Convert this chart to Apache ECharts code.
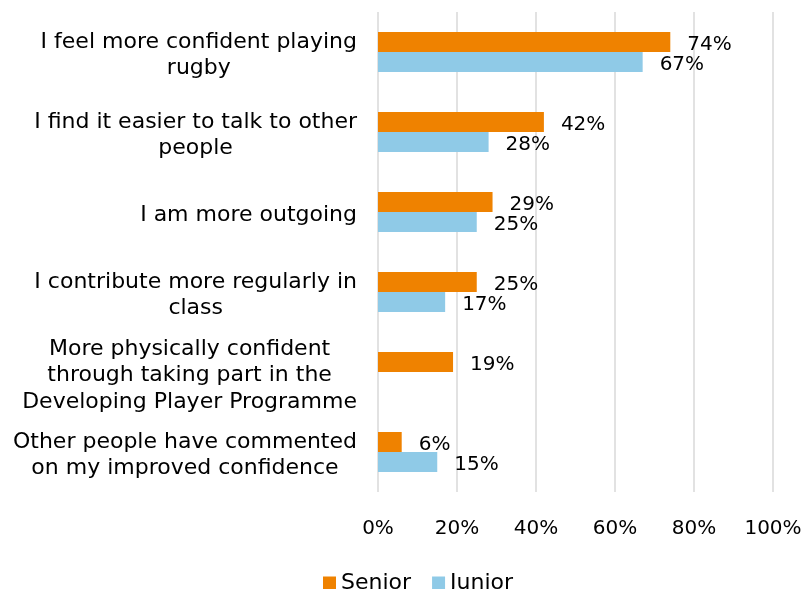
<!DOCTYPE html>
<html>
<head>
<meta charset="utf-8">
<script src="https://cdn.jsdelivr.net/npm/echarts@6/dist/echarts.min.js"></script>
<style>
  html, body { margin: 0; padding: 0; background: #fff; }
  #chart { width: 807px; height: 589px; }
</style>
</head>
<body>
<div id="chart"></div>
<script>
// Survey statements (top to bottom)
const categories = [
  'I feel more confident playing\nrugby',
  'I find it easier to talk to other\npeople',
  'I am more outgoing',
  'I contribute more regularly in\nclass',
  'More physically confident\nthrough taking part in the\nDeveloping Player Programme',
  'Other people have commented\non my improved confidence'
];
// Share of respondents agreeing (%)
const seniorValues = [74, 42, 29, 25, 19, 6];
const juniorValues = [67, 28, 25, 17, null, 15];
const xTicks = [0, 20, 40, 60, 80, 100];

const FONT = 'DejaVu Sans';
const chart = echarts.init(document.getElementById('chart'));

const labelStyle = {
  show: true,
  position: 'right',
  distance: 17,
  offset: [0, 3],
  fontFamily: FONT,
  fontSize: 20,
  color: '#000',
  formatter: p => p.value == null ? '' : p.value + '%'
};

chart.setOption({
  animation: false,
  grid: { left: 378, right: 34, top: 12, height: 480, containLabel: false },
  legend: {
    bottom: -10,
    left: 318,
    itemWidth: 13,
    itemHeight: 13,
    itemGap: 21,
    itemTextGap: 6,
    textStyle: { fontFamily: FONT, fontSize: 22, color: '#000' },
    data: [
      { name: 'Senior', icon: 'rect' },
      { name: 'Junior', icon: 'rect' }
    ]
  },
  xAxis: {
    type: 'value',
    min: 0,
    max: 100,
    interval: 20,
    axisLine: { show: false },
    axisTick: { show: false },
    splitLine: { lineStyle: { color: '#d9d9d9', width: 1.5 } },
    axisLabel: {
      margin: 27,
      fontFamily: FONT,
      fontSize: 20,
      color: '#000',
      formatter: v => xTicks.includes(v) ? v + '%' : ''
    }
  },
  yAxis: {
    type: 'category',
    inverse: true,
    data: categories,
    axisLine: { show: false },
    axisTick: { show: false },
    axisLabel: {
      margin: 21,
      align: 'right',
      padding: [7, 0, 0, 0],
      // each line centred within the label block
      formatter: v => v.split('\n').map(s => '{c|' + s + '}').join('\n'),
      rich: {
        c: {
          align: 'center',
          fontFamily: FONT,
          fontSize: 22,
          lineHeight: 26.5,
          color: '#000'
        }
      }
    }
  },
  series: [
    {
      name: 'Senior',
      type: 'bar',
      data: seniorValues,
      barWidth: 20,
      barGap: '0%',
      barCategoryGap: '50%',
      itemStyle: { color: '#EF8200' },
      label: labelStyle
    },
    {
      name: 'Junior',
      type: 'bar',
      data: juniorValues,
      barWidth: 20,
      barGap: '0%',
      barCategoryGap: '50%',
      itemStyle: { color: '#8FCAE7' },
      label: labelStyle
    }
  ]
});
</script>
</body>
</html>
